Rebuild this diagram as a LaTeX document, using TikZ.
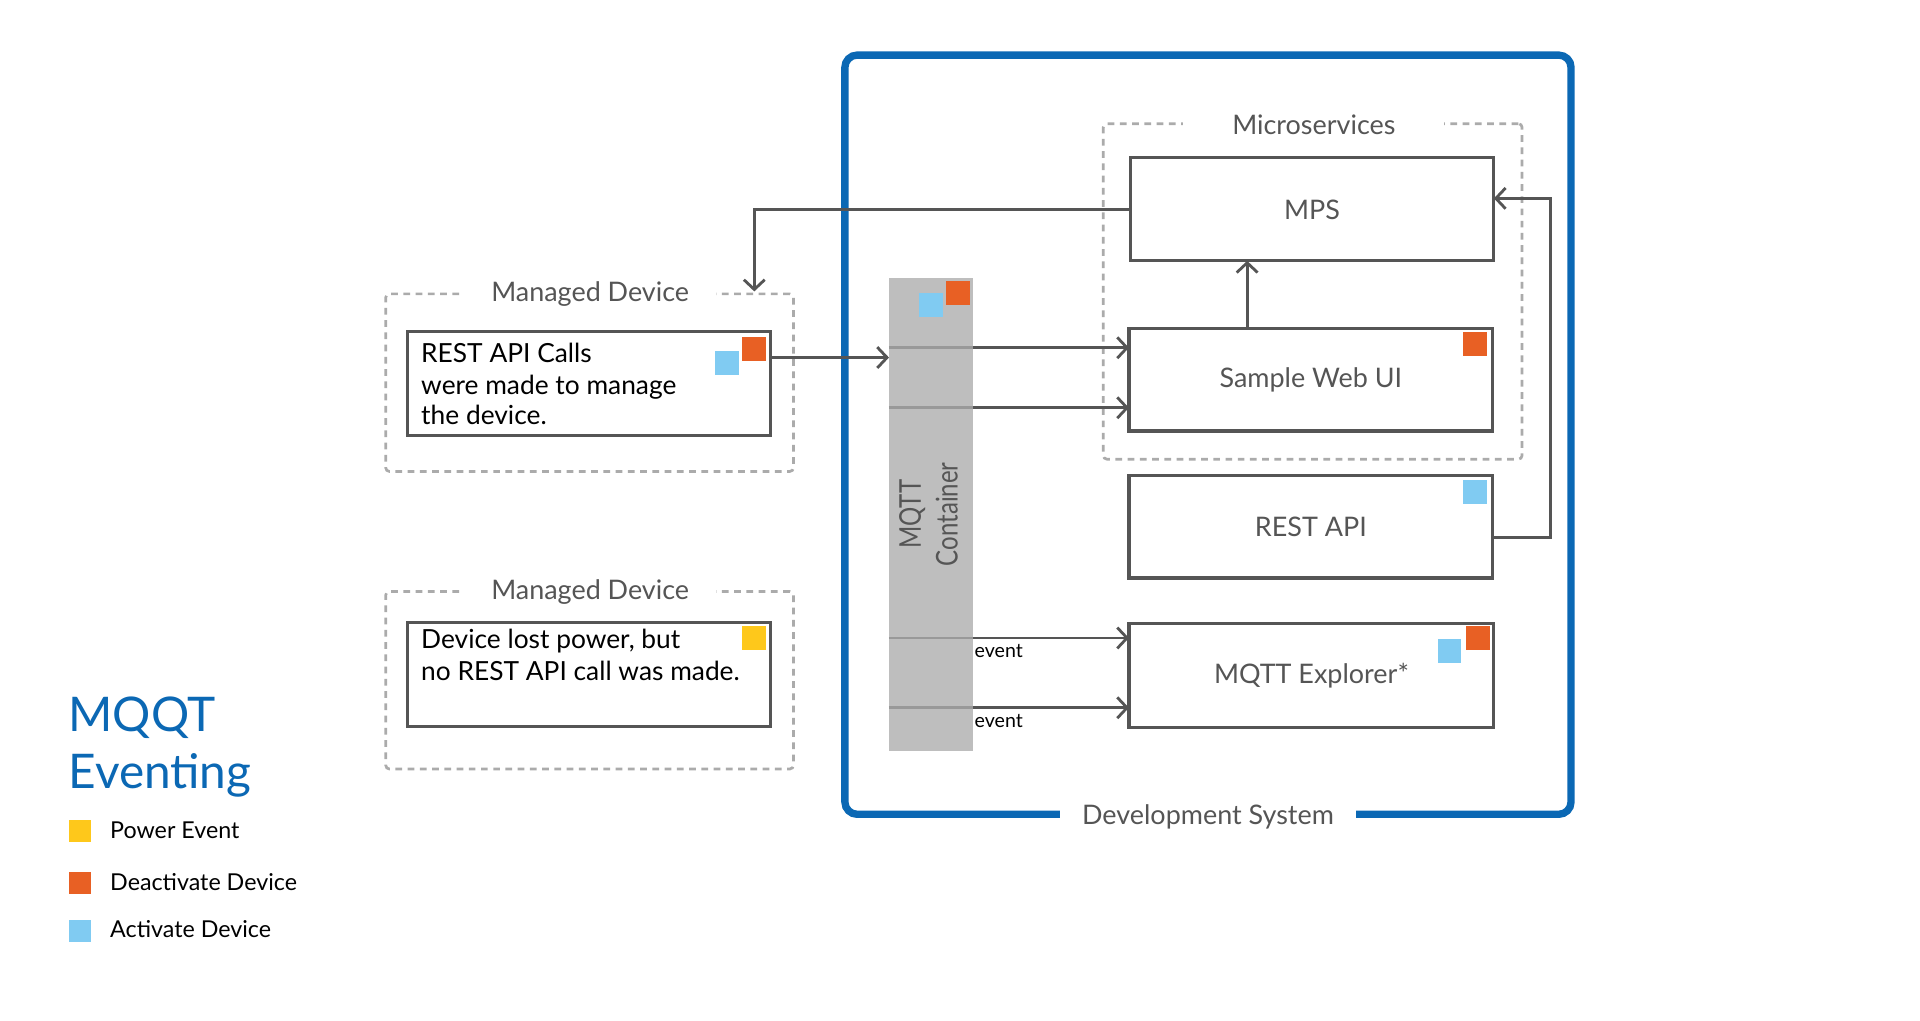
\documentclass[tikz,border=0pt]{standalone}
\usepackage{fontspec}
\usepackage{graphicx}
\setmainfont{Lato}
\usetikzlibrary{arrows.meta,calc}
\definecolor{ink}{HTML}{555555}
\definecolor{dashc}{HTML}{ABABAB}
\definecolor{fblue}{HTML}{0B68B4}
\definecolor{sqor}{HTML}{E86024}
\definecolor{sqbl}{HTML}{80CBF2}
\definecolor{sqye}{HTML}{FEC81B}
\definecolor{barg}{HTML}{BEBEBE}
\definecolor{barlc}{HTML}{999999}
\newcommand\lblfont{\fontsize{22}{26}\selectfont}
\newcommand\boxfont{\fontsize{21.5}{25}\selectfont}
\newcommand\evtfont{\fontsize{16}{18}\selectfont}
\newcommand\legfont{\fontsize{19}{22}\selectfont}
\newcommand\ttlfont{\fontsize{39}{46}\selectfont}
\begin{document}
\begin{tikzpicture}[x=1pt,y=-1pt,
  every node/.style={outer sep=0pt},
  box/.style={draw=ink,line width=2.5pt,fill=white,anchor=north west,inner sep=0pt,text=ink,font=\lblfont},
  dbox/.style={draw=dashc,line width=2.2pt,dash pattern=on 5.5pt off 4.5pt,rounded corners=3pt,anchor=north west,inner sep=0pt},
  gaplbl/.style={fill=white,anchor=base,inner ysep=4pt,text=ink,font=\lblfont},
  sq/.style={anchor=north west,minimum width=19.5pt,minimum height=19.5pt,inner sep=0pt},
  sqO/.style={sq,fill=sqor}, sqB/.style={sq,fill=sqbl}, sqY/.style={sq,fill=sqye},
  lsq/.style={anchor=north west,minimum width=18.5pt,minimum height=18pt,inner sep=0pt},
  arr/.style={draw=ink,line width=2.3pt,-{Straight Barb[length=8pt,width=17pt]}},
  bline/.style={draw=barlc,line width=2.3pt},
  dtext/.style={anchor=base west,inner sep=0pt,font=\boxfont,text=black},
  evt/.style={anchor=base west,inner sep=0pt,font=\evtfont,text=black},
  leg/.style={anchor=base west,inner sep=0pt,font=\legfont,text=black}
]
\useasboundingbox[fill=white] (0,0) rectangle (1568,833);

% Development system frame
\node[draw=fblue,line width=6pt,rounded corners=10pt,minimum width=593pt,minimum height=620pt,anchor=north west,inner sep=0pt] (dev) at (690,45) {};
\node[gaplbl,inner xsep=18pt,inner ysep=8pt] (devl) at (986.5,673) {Development System};

% Microservices
\node[dbox,minimum width=342pt,minimum height=274pt] (micro) at (901,101) {};
\node[gaplbl,inner xsep=40pt] (microl) at (1073,109.5) {Microservices};

% service boxes
\node[box,minimum width=297pt,minimum height=84pt] (mps) at (923,129) {MPS};
\node[box,minimum width=297pt,minimum height=84pt] (web) at (922,268) {Sample Web UI};
\node[box,minimum width=297pt,minimum height=84pt] (rest) at (922,388) {REST API};
\node[box,minimum width=298pt,minimum height=85pt] (mqe) at (922,509) {MQTT Explorer*};
\node[sqO] (webo) at (1195,271) {};
\node[sqB] (restb) at (1195,392) {};
\node[sqB] (mqeb) at (1174,522) {};
\node[sqO] (mqeo) at (1197,511) {};

% MQTT container bar
\node[fill=barg,minimum width=69pt,minimum height=386pt,anchor=north west,inner sep=0pt] (bar) at (726,227) {};
\node[sqO] (baro) at (772.5,229.5) {};
\node[sqB] (barb) at (750.5,239.5) {};
\node[rotate=90,text=ink,inner sep=0pt,font=\fontsize{24.5}{30}\selectfont] (barl) at (761,420) {\scalebox{0.8}[1]{\begin{tabular}{@{}c@{}}MQTT\\Container\end{tabular}}};

% managed devices
\node[dbox,minimum width=333pt,minimum height=145pt] (md1) at (315,240) {};
\node[gaplbl,inner xsep=22pt] (md1l) at (482,246.5) {Managed Device};
\node[box,minimum width=296pt,minimum height=85pt] (rc) at (333,271) {};
\node[dtext] (rc1) at (344,296) {REST API Calls};
\node[dtext] (rc2) at (344,322) {were made to manage};
\node[dtext] (rc3) at (344,347) {the device.};
\node[sqO] (rco) at (606,275) {};
\node[sqB] (rcb) at (584,287) {};

\node[dbox,minimum width=333pt,minimum height=145pt] (md2) at (315,483) {};
\node[gaplbl,inner xsep=22pt] (md2l) at (482,489.5) {Managed Device};
\node[box,minimum width=296pt,minimum height=85pt] (lp) at (333,508) {};
\node[dtext] (lp1) at (344,530) {Device lost power, but};
\node[dtext] (lp2) at (344,556) {no REST API call was made.};
\node[sqY] (lpy) at (606,511) {};

% bar lines and arrows
\coordinate (b1) at (726,284);
\coordinate (b2) at (726,333);
\coordinate (b3) at (726,521);
\coordinate (b4) at (726,578);
\draw[bline] (b1) -- (b1 -| bar.east);
\draw[bline] (b2) -- (b2 -| bar.east);
\draw[bline] (b3) -- (b3 -| bar.east);
\draw[bline] (b4) -- (b4 -| bar.east);
\draw[arr] (b1 -| bar.east) -- (b1 -| web.west);
\draw[arr] (b2 -| bar.east) -- (b2 -| web.west);
\draw[arr] (b3 -| bar.east) -- (b3 -| mqe.west);
\draw[arr] (b4 -| bar.east) -- (b4 -| mqe.west);
\node[evt] (ev1) at (796,537) {event};
\node[evt] (ev2) at (796,594) {event};

% other connectors
\coordinate (rcout) at ($(rc.north east)+(0,21)$);
\draw[arr] (rcout) -- (rcout -| bar.west);
\draw[arr] (mps.west) -| ($(md1.north east)+(-32,-2)$);
\coordinate (wup) at ($(web.north)+(-52,0)$);
\draw[arr] (wup) -- (wup |- mps.south);
\draw[arr] ($(rest.east)+(0,9)$) -- ++(47,0) |- ($(mps.east)+(0,-9)$);

% legend
\node[anchor=base west,inner sep=0pt,text=fblue,font=\ttlfont] (t1) at (56,597) {MQQT};
\node[anchor=base west,inner sep=0pt,text=fblue,font=\ttlfont] (t2) at (56,644) {Eventing};
\node[lsq,fill=sqye] (ly) at (56,670) {};
\node[lsq,fill=sqor] (lo) at (56,712) {};
\node[lsq,fill=sqbl] (lb) at (56,751) {};
\node[leg] (l1) at (90,685) {Power Event};
\node[leg] (l2) at (90,727) {Deactivate Device};
\node[leg] (l3) at (90,766) {Activate Device};
\end{tikzpicture}
\end{document}
